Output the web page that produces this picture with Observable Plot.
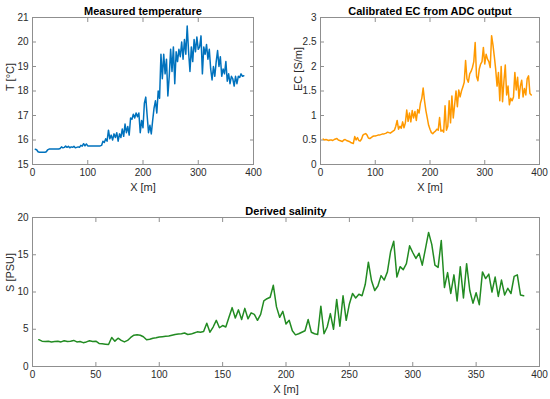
<!DOCTYPE html>
<html><head><meta charset="utf-8">
<script src="https://cdn.jsdelivr.net/npm/d3@7"></script>
<script src="https://cdn.jsdelivr.net/npm/@observablehq/plot@0.6"></script>
<style>
html,body{margin:0;padding:0;background:#fff;}
#wrap{position:relative;width:550px;height:399px;overflow:hidden;background:#fff;}
.panel{position:absolute;}
</style></head><body><div id="wrap"></div>
<script>
// Sampling grid (m) for each series
const tempStart = 5, tempStep = 2.5;
const ecStart = 5, ecStep = 2.5;
const salStart = 5, salStep = 2.5;

// Measured temperature [°C]
const tempValues = [
15.62,15.6,15.52,15.5,15.5,15.5,15.5,15.5,15.52,15.6,
15.63,15.63,15.63,15.63,15.63,15.63,15.63,15.63,15.65,15.72,
15.68,15.7,15.75,15.7,15.74,15.68,15.72,15.7,15.74,15.68,
15.7,15.72,15.7,15.78,15.75,15.85,15.76,15.84,15.76,15.76,
15.76,15.76,15.76,15.76,15.76,15.76,15.76,15.76,15.78,15.95,
15.9,16.05,15.95,16.4,16.05,16.2,16.0,16.25,16.1,16.3,
15.95,16.25,16.1,16.45,16.15,16.65,16.3,16.55,16.2,16.9,
16.85,17.05,16.9,17.1,16.95,17.1,16.3,16.8,16.5,17.5,
17.75,17.0,16.3,16.6,16.25,16.8,17.3,17.6,17.1,18.0,
17.7,19.5,18.5,19.5,18.7,19.3,17.8,18.6,19.7,18.8,
19.8,18.3,19.6,19.2,19.7,19.4,20.0,19.3,20.1,19.5,
20.65,19.6,18.8,19.8,19.2,20.1,19.6,20.2,19.7,19.8,
20.25,18.7,19.8,19.5,19.9,19.3,19.7,18.9,18.45,19.0,
18.6,19.2,19.65,19.0,19.4,18.6,18.9,18.7,19.2,18.4,
18.7,18.3,18.6,18.5,18.2,18.6,18.3,18.6,18.55,18.7,
18.6,18.62
];

// Calibrated EC [S/m]
const ecValues = [
0.52,0.5,0.51,0.5,0.49,0.5,0.5,0.49,0.51,0.52,
0.53,0.5,0.49,0.48,0.47,0.5,0.51,0.49,0.48,0.47,
0.45,0.44,0.43,0.57,0.5,0.55,0.49,0.48,0.52,0.6,
0.62,0.63,0.6,0.54,0.53,0.55,0.57,0.58,0.58,0.59,
0.6,0.6,0.61,0.62,0.62,0.63,0.64,0.66,0.65,0.64,
0.66,0.68,0.7,0.78,0.9,0.72,0.78,0.74,0.87,0.75,
0.85,1.11,0.88,1.05,0.87,1.1,0.95,1.08,0.9,1.12,
1.05,1.25,1.35,1.56,1.3,1.1,0.95,0.8,0.72,0.65,
0.63,0.66,0.68,0.72,0.7,0.96,0.68,0.7,0.66,1.2,
0.7,0.78,1.3,0.85,1.4,0.95,1.22,1.5,1.18,1.52,
1.38,1.5,1.58,1.68,2.12,1.75,1.68,1.85,1.9,1.98,
2.1,2.49,1.8,1.71,1.95,2.05,2.1,2.39,2.05,2.25,
2.15,2.1,1.98,2.63,2.44,2.2,1.94,1.6,1.88,1.3,
2.0,1.28,1.7,2.03,1.42,1.6,1.22,1.35,1.3,1.38,
1.88,1.52,1.78,1.35,1.6,1.72,1.38,1.55,1.42,1.75,
1.81,1.45,1.42
];

// Derived salinity [PSU]
const salValues = [
3.6,3.4,3.35,3.4,3.3,3.35,3.4,3.3,3.45,3.35,
3.4,3.5,3.3,3.35,3.2,3.3,3.45,3.35,3.4,3.1,
3.05,3.0,2.95,3.9,3.4,3.8,3.5,3.3,3.5,3.9,
4.2,4.25,4.2,4.0,3.6,3.65,3.8,3.85,3.95,4.0,
4.05,4.1,4.2,4.3,4.35,4.4,4.5,4.3,4.35,4.5,
4.65,4.6,4.7,5.8,4.6,5.3,6.2,5.2,5.5,5.3,
6.6,7.9,6.5,7.6,6.3,7.8,6.4,7.2,7.0,6.2,
7.0,8.8,9.1,9.3,10.9,8.0,6.6,7.4,5.7,6.2,
4.8,4.25,4.4,4.6,4.8,6.3,4.6,4.4,4.3,8.1,
4.4,5.3,7.1,5.0,9.0,5.4,9.5,6.2,8.4,9.8,
9.2,9.7,9.5,11.0,14.0,11.5,10.2,10.8,12.2,11.6,
12.7,15.4,16.8,12.0,13.4,13.0,13.8,16.2,15.3,14.5,
15.2,13.6,15.8,18.0,16.4,13.6,13.3,16.9,10.6,12.6,
9.8,12.3,8.8,13.4,9.2,13.8,10.2,8.5,9.9,8.3,
12.7,11.8,12.4,10.0,12.0,9.4,11.6,9.6,10.5,9.8,
12.1,12.3,9.6,9.5
];

// Axis ticks
const xTicksTop = [0, 100, 200, 300, 400];
const xTicksBottom = [0, 50, 100, 150, 200, 250, 300, 350, 400];
const tempTicks = [15, 16, 17, 18, 19, 20, 21];
const ecTicks = [0, 0.5, 1, 1.5, 2, 2.5, 3];
const salTicks = [0, 5, 10, 15, 20];

const toRows = (vals, start, step) => vals.map((v, i) => ({x: start + i * step, y: v}));

const frameColor = "#8f8f8f";
const textColor = "#2b2b2b";
const FONT = "'Liberation Sans', Arial, Helvetica, sans-serif";

function panel({rows, color, xTicks, yTicks, yDomain, title, ylabel, width, height, m, left, top}) {
  const fmt = d => String(d);
  const svg = Plot.plot({
    width, height,
    marginTop: m[0], marginRight: m[1], marginBottom: m[2], marginLeft: m[3],
    style: {fontFamily: FONT, fontSize: "10px", color: textColor, background: "transparent", overflow: "visible"},
    x: {domain: [0, 400], label: null},
    y: {domain: yDomain, label: null},
    marks: [
      Plot.axisX({anchor: "bottom", ticks: xTicks, tickSize: -4, tickFormat: () => "", color: frameColor, label: null}),
      Plot.axisX({anchor: "top", ticks: xTicks, tickSize: -4, tickFormat: () => "", color: frameColor, label: null}),
      Plot.axisY({anchor: "left", ticks: yTicks, tickSize: -4, tickFormat: () => "", color: frameColor, label: null}),
      Plot.axisY({anchor: "right", ticks: yTicks, tickSize: -4, tickFormat: () => "", color: frameColor, label: null}),
      Plot.axisX({anchor: "bottom", ticks: xTicks, tickSize: 0, tickPadding: 4.5, tickFormat: fmt, color: textColor, label: null}),
      Plot.axisY({anchor: "left", ticks: yTicks, tickSize: 0, tickPadding: 4, tickFormat: fmt, color: textColor, label: null}),
      Plot.frame({stroke: frameColor}),
      Plot.line(rows, {x: "x", y: "y", stroke: color, strokeWidth: 1.5}),
      Plot.text([title], {text: d => d, frameAnchor: "top", dy: -10, fontWeight: "bold", fontSize: 11, fill: "#000"}),
      Plot.text(["X [m]"], {text: d => d, frameAnchor: "bottom", dy: 26, fontSize: 11, fill: textColor}),
      Plot.text([ylabel], {text: d => d, frameAnchor: "left", dx: -22, rotate: -90, fontSize: 11, fill: textColor})
    ]
  });
  const div = document.createElement("div");
  div.className = "panel";
  div.style.left = left + "px";
  div.style.top = top + "px";
  div.appendChild(svg);
  document.getElementById("wrap").appendChild(div);
}

panel({rows: toRows(tempValues, tempStart, tempStep), color: "#0072BD", xTicks: xTicksTop, yTicks: tempTicks,
  yDomain: [15, 21], title: "Measured temperature", ylabel: "T [°C]",
  width: 275, height: 200, m: [17, 22, 36, 32], left: 0, top: 0});
panel({rows: toRows(ecValues, ecStart, ecStep), color: "#FF9900", xTicks: xTicksTop, yTicks: ecTicks,
  yDomain: [0, 3], title: "Calibrated EC from ADC output", ylabel: "EC [S/m]",
  width: 275, height: 200, m: [17, 11, 36, 45], left: 275, top: 0});
panel({rows: toRows(salValues, salStart, salStep), color: "#228B22", xTicks: xTicksBottom, yTicks: salTicks,
  yDomain: [0, 20], title: "Derived salinity", ylabel: "S [PSU]",
  width: 550, height: 199, m: [17, 11, 33, 32], left: 0, top: 200});
</script>
</body></html>
